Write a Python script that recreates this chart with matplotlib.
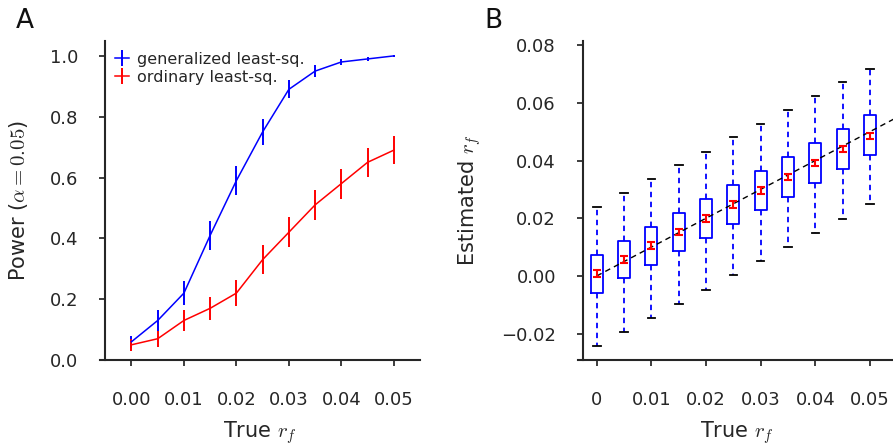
import matplotlib
matplotlib.use("Agg")
import matplotlib.pyplot as plt
import numpy as np

plt.rcParams['font.family'] = ['DejaVu Sans']
plt.rcParams['mathtext.fontset'] = 'cm'

# ---- Panel A data ----
true_rf = [0.0, 0.005, 0.01, 0.015, 0.02, 0.025, 0.03, 0.035, 0.04, 0.045, 0.05]
gls_power = [0.06, 0.13, 0.22, 0.41, 0.59, 0.75, 0.89, 0.95, 0.98, 0.99, 1.0]
gls_err = [0.02, 0.035, 0.04, 0.048, 0.049, 0.043, 0.03, 0.019, 0.011, 0.008, 0.002]
ols_power = [0.05, 0.07, 0.13, 0.17, 0.22, 0.33, 0.42, 0.51, 0.58, 0.65, 0.69]
ols_err = [0.019, 0.026, 0.034, 0.038, 0.043, 0.047, 0.049, 0.049, 0.049, 0.048, 0.047]
a_xticks = [0.0, 0.01, 0.02, 0.03, 0.04, 0.05]
a_xticklabels = ["0.00", "0.01", "0.02", "0.03", "0.04", "0.05"]
a_yticks = [0.0, 0.2, 0.4, 0.6, 0.8, 1.0]
a_yticklabels = ["0.0", "0.2", "0.4", "0.6", "0.8", "1.0"]

# ---- Panel B data ----
whis_lo = [-0.0242, -0.0194, -0.0144, -0.0096, -0.0047, 0.0002, 0.0051, 0.0100, 0.0150, 0.0199, 0.0248]
q1 = [-0.0058, -0.0008, 0.0038, 0.0088, 0.0133, 0.0179, 0.0228, 0.0275, 0.0322, 0.0371, 0.0418]
q3 = [0.0073, 0.0122, 0.0170, 0.0218, 0.0266, 0.0315, 0.0364, 0.0412, 0.0461, 0.0510, 0.0558]
whis_hi = [0.0239, 0.0287, 0.0335, 0.0383, 0.0431, 0.0480, 0.0526, 0.0576, 0.0622, 0.0671, 0.0718]
est_mean = [0.0009, 0.0057, 0.0105, 0.0152, 0.0199, 0.0248, 0.0296, 0.0344, 0.0391, 0.0439, 0.0486]
mean_err = [0.0011] * 11
b_xticks = [0.0, 0.01, 0.02, 0.03, 0.04, 0.05]
b_xticklabels = ["0", "0.01", "0.02", "0.03", "0.04", "0.05"]
b_yticks = [-0.02, 0.0, 0.02, 0.04, 0.06, 0.08]
b_yticklabels = ["\u22120.02", "0.00", "0.02", "0.04", "0.06", "0.08"]

W, H = 893, 447
fig = plt.figure(figsize=(W / 100, H / 100), dpi=100)

txt = '#262626'
tick_fs = 13
lab_fs = 15


def style(ax):
    for s in ['top', 'right']:
        ax.spines[s].set_visible(False)
    for s in ['left', 'bottom']:
        ax.spines[s].set_linewidth(1.5)
        ax.spines[s].set_color(txt)
    ax.tick_params(axis='both', direction='out', length=4, width=1.25, colors=txt,
                   labelsize=tick_fs, labelcolor=txt)
    ax.tick_params(axis='x', pad=18)
    ax.tick_params(axis='y', pad=15.5)


# ---- Panel A ----
axA = fig.add_axes([100 / W, 1 - 360 / H, 320 / W, (360 - 40.7) / H])
axA.errorbar(true_rf, gls_power, yerr=gls_err, color='b', lw=1.1, elinewidth=1.4,
             capsize=0, label='generalized least-sq.')
axA.errorbar(true_rf, ols_power, yerr=ols_err, color='r', lw=1.1, elinewidth=1.4,
             capsize=0, label='ordinary least-sq.')
axA.set_xlim(-0.006, 0.055)
axA.set_ylim(0, 1.05)
style(axA)
axA.spines['left'].set_position(('data', -0.005))
axA.set_xticks(a_xticks)
axA.set_xticklabels(a_xticklabels)
axA.set_yticks(a_yticks)
axA.set_yticklabels(a_yticklabels)
axA.set_ylabel(r'Power ($\alpha=0.05$)', fontsize=lab_fs, color=txt)
axA.set_xlabel(r'True $r_f$', fontsize=lab_fs, color=txt)
axA.yaxis.set_label_coords(-0.219, 0.5)
axA.xaxis.set_label_coords(0.5, -0.185)
leg = axA.legend(loc='upper left', bbox_to_anchor=(0.047, 0.966), frameon=False,
                 fontsize=11.5, handlelength=0.9, handletextpad=0.45,
                 labelspacing=0.2, borderpad=0, borderaxespad=0)
for t in leg.get_texts():
    t.set_color(txt)

# ---- Panel B ----
axB = fig.add_axes([577.5 / W, 1 - 360 / H, 319 / W, (360 - 40.7) / H])
stats = []
for i in range(len(true_rf)):
    stats.append(dict(med=est_mean[i], q1=q1[i], q3=q3[i], whislo=whis_lo[i],
                      whishi=whis_hi[i], fliers=[]))
axB.bxp(stats, positions=true_rf, widths=0.0022, capwidths=0.0014, showfliers=False,
        manage_ticks=False,
        boxprops=dict(color='b', linewidth=1.3),
        whiskerprops=dict(color='b', linewidth=1.3, linestyle=(0, (3, 2.5))),
        capprops=dict(color='black', linewidth=1.3),
        medianprops=dict(linewidth=0))
axB.plot([0, 0.06], [0, 0.06], color='black', lw=1.0, linestyle=(0, (4, 3)), zorder=3)
axB.errorbar(true_rf, est_mean, yerr=mean_err, fmt='none', ecolor='r', elinewidth=1.5,
             capsize=3, capthick=1.5, zorder=4)
axB.set_xlim(-0.00351, 0.05485)
axB.set_ylim(-0.0291, 0.0815)
style(axB)
axB.spines['left'].set_position(('data', -0.0025))
axB.set_xticks(b_xticks)
axB.set_xticklabels(b_xticklabels)
axB.set_yticks(b_yticks)
axB.set_yticklabels(b_yticklabels)
axB.set_ylabel(r'Estimated $r_f$', fontsize=lab_fs, color=txt)
axB.set_xlabel(r'True $r_f$', fontsize=lab_fs, color=txt)
axB.yaxis.set_label_coords(-0.295, 0.5)
axB.xaxis.set_label_coords(0.5, -0.185)

fig.text(25 / W, 1 - 21 / H, 'A', fontsize=19, ha='center', va='center', color='#111111')
fig.text(493 / W, 1 - 21 / H, 'B', fontsize=19, ha='center', va='center', color='#111111')

fig.savefig('out.png', dpi=100)
